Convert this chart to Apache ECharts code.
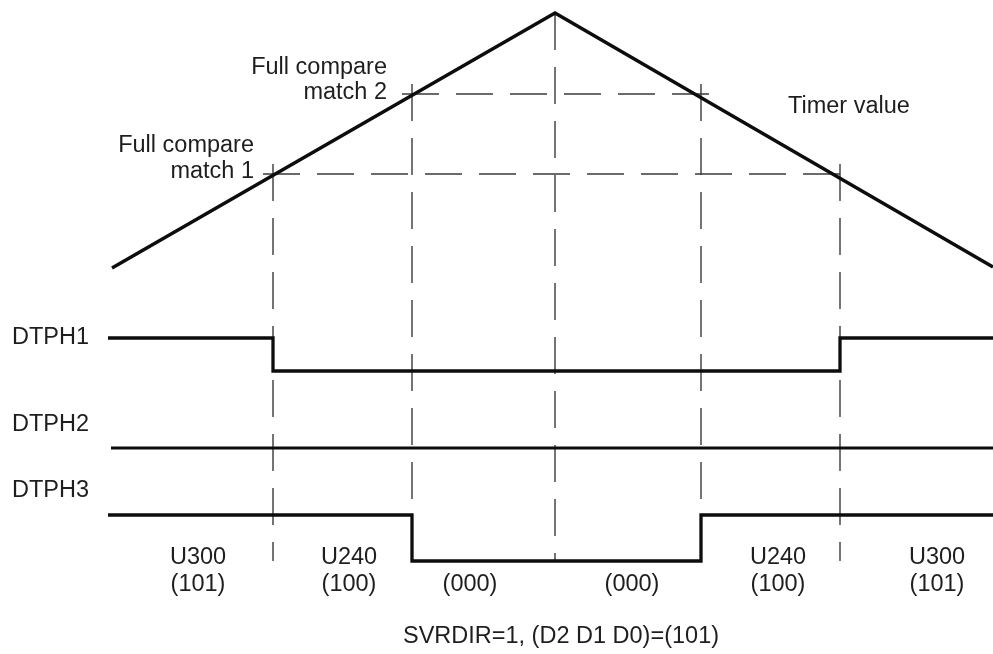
<!DOCTYPE html>
<html>
<head>
<meta charset="utf-8">
<script src="https://cdn.jsdelivr.net/npm/echarts@6/dist/echarts.min.js"></script>
<style>html,body{margin:0;padding:0;background:#fff}#c{width:993px;height:654px}</style>
</head>
<body>
<div id="c"></div>
<script>
// ---- data (time units along the PWM period, timer counts, logic levels) ----
const TRI_TIME = [4, 447, 885];
const TRI_COUNT = [0, 255, 1];
const CMP1 = 94;           // full compare match 1 level
const CMP2 = 174;          // full compare match 2 level
const CMP1_TIMES = [165, 732];
const CMP2_TIMES = [304, 593];
const PEAK_TIME = 447;
const DTPH1_T = [0, 165, 732, 885];
const DTPH1_V = [1, 0, 1, 1];
const DTPH2_T = [3, 885];
const DTPH2_V = [0, 0];
const DTPH3_T = [0, 304, 593, 885];
const DTPH3_V = [1, 0, 1, 1];
const SIGNAL_NAMES = ['DTPH1', 'DTPH2', 'DTPH3'];
const PHASE_TOP = ['U300', 'U240', '', '', 'U240', 'U300'];
const PHASE_CODE = ['(101)', '(100)', '(000)', '(000)', '(100)', '(101)'];
const CAPTION = 'SVRDIR=1, (D2 D1 D0)=(101)';

const zip = (a, b) => a.map((t, i) => [t, b[i]]);
const FONT = '23.5px "Liberation Sans", Arial, sans-serif';
const TXT = '#1e1e1e';
const INK = '#0d0d0d';
const DASH = '#3a3a3a';

const chart = echarts.init(document.getElementById('c'), null, {renderer: 'canvas'});
const gridBase = {left: 108, right: 0};
const grids = [
  Object.assign({top: 13, height: 255}, gridBase),
  Object.assign({top: 338, height: 33}, gridBase),
  Object.assign({top: 415, height: 33}, gridBase),
  Object.assign({top: 515, height: 46}, gridBase)
];
const xAxes = grids.map((g, i) => ({type: 'value', gridIndex: i, min: 0, max: 885, show: false}));
const yAxes = [
  {type: 'value', gridIndex: 0, min: 0, max: 255, show: false},
  {type: 'value', gridIndex: 1, min: 0, max: 1, show: false},
  {type: 'value', gridIndex: 2, min: 0, max: 1, show: false},
  {type: 'value', gridIndex: 3, min: 0, max: 1, show: false}
];
const solid = (w) => ({color: INK, width: w, join: 'miter', cap: 'butt'});
chart.setOption({
  animation: false,
  grid: grids,
  xAxis: xAxes,
  yAxis: yAxes,
  series: [
    {type: 'line', xAxisIndex: 0, yAxisIndex: 0, data: zip(TRI_TIME, TRI_COUNT), showSymbol: false, lineStyle: solid(3.5), clip: false, z: 5},
    {type: 'line', xAxisIndex: 1, yAxisIndex: 1, data: zip(DTPH1_T, DTPH1_V), step: 'end', showSymbol: false, lineStyle: solid(3.3), clip: false, z: 5},
    {type: 'line', xAxisIndex: 2, yAxisIndex: 2, data: zip(DTPH2_T, DTPH2_V), showSymbol: false, lineStyle: solid(3), clip: false, z: 5},
    {type: 'line', xAxisIndex: 3, yAxisIndex: 3, data: zip(DTPH3_T, DTPH3_V), step: 'end', showSymbol: false, lineStyle: solid(3.3), clip: false, z: 5}
  ]
});

// ---- dashed guide lines, positioned through the axes ----
const px = (g, t, v) => chart.convertToPixel({gridIndex: g}, [t, v]);
const bottomY = px(3, 0, 0)[1];
const dashStyle = {stroke: DASH, lineWidth: 1.4, lineDash: [37, 17]};
const g = [];
function vline(t, v, over) {
  const p = px(0, t, v);
  g.push({type: 'line', shape: {x1: p[0], y1: p[1] - over, x2: p[0], y2: bottomY}, style: dashStyle, z: 1});
}
CMP1_TIMES.forEach(t => vline(t, CMP1, 10));
CMP2_TIMES.forEach(t => vline(t, CMP2, 10));
vline(PEAK_TIME, 255, 0);
function hline(times, v) {
  const a = px(0, times[0], v), b = px(0, times[1], v);
  g.push({type: 'line', shape: {x1: a[0] - 10, y1: a[1], x2: b[0] + 10, y2: a[1]}, style: dashStyle, z: 1});
}
hline(CMP1_TIMES, CMP1);
hline(CMP2_TIMES, CMP2);

// ---- text ----
function text(str, x, y, align, lh) {
  g.push({type: 'text', x: x, y: y, z: 10, style: {text: str, fill: TXT, font: FONT, align: align, verticalAlign: 'middle', lineHeight: lh || 26}});
}
text('Full compare\nmatch 2', 387, 80, 'right', 25);
text('Full compare\nmatch 1', 254, 159, 'right', 26);
text('Timer value', 788, 107, 'left');
const sigY = [338, 425, 491];
SIGNAL_NAMES.forEach((n, i) => text(n, 12, sigY[i], 'left'));
const phaseX = [198, 349, 470, 632, 778, 937];
PHASE_TOP.forEach((s, i) => {
  if (s) text(s, phaseX[i], 558, 'center');
  text(PHASE_CODE[i], phaseX[i], 585, 'center');
});
text(CAPTION, 561, 637, 'center');

chart.setOption({graphic: {elements: g}});
</script>
</body>
</html>
